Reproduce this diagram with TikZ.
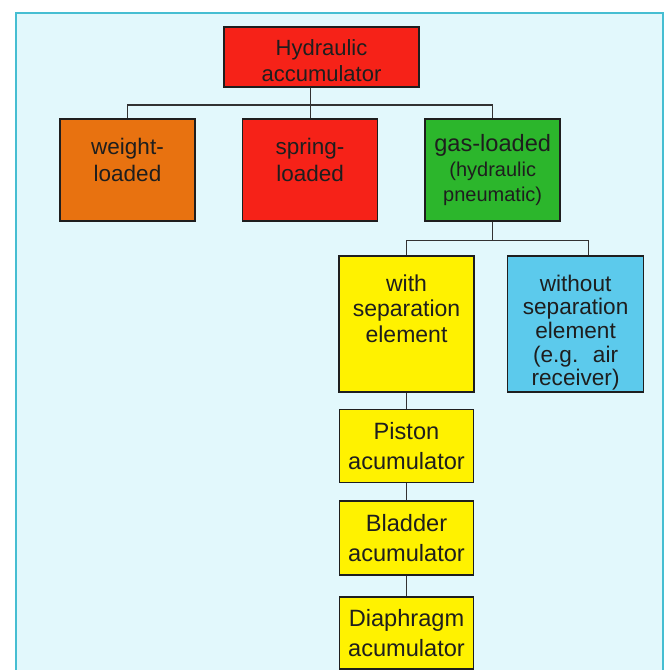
\documentclass[tikz,border=0pt]{standalone}
\usepackage{fontspec}
\setmainfont{Liberation Sans}
\usetikzlibrary{positioning}

\definecolor{panel}{RGB}{226,248,252}
\definecolor{rim}{RGB}{70,190,210}
\definecolor{redbox}{RGB}{246,34,24}
\definecolor{orangebox}{RGB}{232,114,16}
\definecolor{greenbox}{RGB}{44,182,44}
\definecolor{yellowbox}{RGB}{255,242,0}
\definecolor{bluebox}{RGB}{92,202,236}
\definecolor{ink}{RGB}{30,30,30}
\definecolor{wirecol}{RGB}{50,50,50}

\begin{document}
\begin{tikzpicture}[x=0.5pt, y=-0.5pt,
		box/.style={rectangle, draw=ink, line width=0.8pt, inner sep=0pt},
		load/.style={box, minimum width=67.5pt, minimum height=51pt},
		kind/.style={box, minimum width=67.5pt, minimum height=68pt},
		txt/.style={align=center, text=ink, inner sep=0pt},
		wire/.style={draw=wirecol, line width=0.6pt}]
		\useasboundingbox (0,0) rectangle (668,670);
		\fill[panel] (16,13) rectangle (663,670);
		\draw[rim, line width=1.2pt] (16,670) -- (16,13) -- (663,13) -- (663,670);

		% root
		\node [box, fill=redbox, minimum width=97.5pt, minimum height=30pt] (root) at (321.5,57) {};
		\node [txt, font=\fontsize{11}{13}\selectfont] (root-t) at ([yshift=-2pt]root.center) {Hydraulic\\accumulator};

		% kinds of loading
		\node [load, fill=orangebox] (weight) at (127.5,170) {};
		\node [load, fill=redbox, right=23pt of weight] (spring) {};
		\node [load, fill=greenbox, txt, font=\fontsize{10}{12.5}\selectfont, right=23pt of spring] (gas)
			{{\fontsize{11.8}{12.5}\selectfont gas-loaded}\\(hydraulic\\pneumatic)};
		\node [txt, font=\fontsize{11.25}{13.5}\selectfont] (weight-t) at ([yshift=5pt]weight.center) {weight-\\loaded};
		\node [txt, font=\fontsize{11.25}{13.5}\selectfont] (spring-t) at ([yshift=5pt]spring.center) {spring-\\loaded};

		% gas-loaded kinds
		\node [kind, fill=yellowbox] (withsep) at (406.5,324) {};
		\node [kind, fill=bluebox, minimum width=68pt, right=16pt of withsep] (nosep) {};
		\node [txt, font=\fontsize{11.5}{12.75}\selectfont] (withsep-t) at ([yshift=7.8pt]withsep.center)
			{with\\separation\\element};
		\node [txt, font=\fontsize{11.3}{11.8}\selectfont] (nosep-t) at ([yshift=-4.3pt]nosep.center)
			{without\\separation\\element\\(e.g.~ air\\receiver)};

		% accumulators with separation element
		\node [box, txt, fill=yellowbox, minimum width=67pt, minimum height=36.5pt, font=\fontsize{11.8}{15}\selectfont, below=8pt of withsep] (piston) {Piston\\acumulator};
		\node [box, txt, fill=yellowbox, minimum width=67pt, minimum height=37pt, font=\fontsize{11.8}{15}\selectfont, below=8.5pt of piston] (bladder) {Bladder\\acumulator};
		\node [box, txt, fill=yellowbox, minimum width=67pt, minimum height=36pt, font=\fontsize{11.8}{15}\selectfont, below=10pt of bladder] (diaphragm) {Diaphragm\\acumulator};

		% connectors
		\coordinate (hub) at (309,105);
		\coordinate (fork) at ([yshift=-9.5pt]gas.south);
		\coordinate (nosep-in) at ([xshift=6.5pt]nosep.north);
		\draw [wire] (root.south -| spring.north) -- (spring.north);
		\draw [wire] (weight.north) |- (hub) -| (gas.north);
		\draw [wire] (gas.south) -- (fork);
		\draw [wire] (withsep.north) |- (fork) -| (nosep-in);
		\draw [wire] (withsep) -- (piston);
		\draw [wire] (piston) -- (bladder);
		\draw [wire] (bladder) -- (diaphragm);
	\end{tikzpicture}
\end{document}
